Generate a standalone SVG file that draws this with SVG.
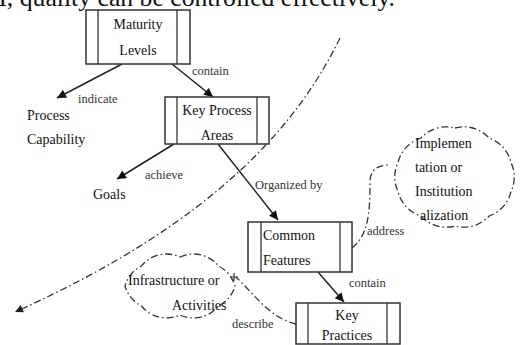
<svg xmlns="http://www.w3.org/2000/svg" width="521" height="345" viewBox="0 0 521 345">
<style>
.box{fill:#fff;stroke:#333;stroke-width:1.5}
.div{stroke:#333;stroke-width:1.3}
.t{font-family:'Liberation Serif','Times New Roman',serif;font-size:14px;fill:#111}
.lb{font-family:'Liberation Serif','Times New Roman',serif;font-size:12.5px;fill:#333}
.arr{stroke:#222;stroke-width:1.5;fill:none;marker-end:url(#ah)}
.dd{stroke:#333;stroke-width:1.3;fill:none;stroke-dasharray:7 3 1.5 3}
</style>
<defs>
<marker id="ah" viewBox="0 0 10 10" refX="10" refY="5" markerWidth="11" markerHeight="9" markerUnits="userSpaceOnUse" orient="auto"><path d="M0,0 L10,5 L0,10 z" fill="#111"/></marker>
<marker id="ah2" viewBox="0 0 10 10" refX="10" refY="5" markerWidth="10" markerHeight="8" markerUnits="userSpaceOnUse" orient="auto"><path d="M0,0 L10,5 L0,10 z" fill="#222"/></marker>
</defs>
<rect width="521" height="345" fill="#fff"/>
<text x="-16" y="6" font-family="Liberation Serif, Times New Roman, serif" font-size="25.5" fill="#111" textLength="411" lengthAdjust="spacingAndGlyphs">M, quality can be controlled effectively.</text>

<g id="connectors" font-family="Liberation Serif, Times New Roman, serif">
<path class="dd" d="M340,38 C300,120 220,220 15,312" marker-end="url(#ah2)"/>
<line class="arr" x1="122" y1="64" x2="57" y2="98"/>
<line class="arr" x1="172" y1="64" x2="213" y2="97"/>
<line class="arr" x1="174" y1="144" x2="117" y2="179"/>
<line class="arr" x1="218" y1="144" x2="278" y2="220"/>
<line class="arr" x1="318" y1="272" x2="344" y2="302"/>
<path class="dd" d="M352,248 C368,235 370,215 370,182 Q370,165 390,165"/>
<path class="dd" d="M296,324 C270,318 255,295 236,277"/>
<path d="M230,277 L238,277 M234,273 L234,281" stroke="#333" stroke-width="1.2"/>
<text class="lb" x="78" y="103">indicate</text>
<text class="lb" x="192" y="75">contain</text>
<text class="lb" x="145" y="179">achieve</text>
<text class="lb" x="255" y="189">Organized by</text>
<text class="lb" x="367" y="235">address</text>
<text class="lb" x="349" y="287">contain</text>
<text class="lb" x="232" y="328">describe</text>
</g>

<g id="maturity-levels" font-family="Liberation Serif, Times New Roman, serif">
<rect class="box" x="86" y="10" width="104" height="54"/>
<line class="div" x1="98" y1="10" x2="98" y2="64"/>
<line class="div" x1="177" y1="10" x2="177" y2="64"/>
<text class="t" x="138" y="29" text-anchor="middle">Maturity</text>
<text class="t" x="138" y="55" text-anchor="middle">Levels</text>
</g>

<g id="process-capability" font-family="Liberation Serif, Times New Roman, serif">
<text class="t" x="27" y="120">Process</text>
<text class="t" x="27" y="144">Capability</text>
</g>

<g id="key-process-areas" font-family="Liberation Serif, Times New Roman, serif">
<rect class="box" x="165" y="97" width="104" height="47"/>
<line class="div" x1="177" y1="97" x2="177" y2="144"/>
<line class="div" x1="257" y1="97" x2="257" y2="144"/>
<text class="t" x="217" y="115" text-anchor="middle">Key Process</text>
<text class="t" x="217" y="140" text-anchor="middle">Areas</text>
</g>

<g id="goals" font-family="Liberation Serif, Times New Roman, serif">
<text class="t" x="93" y="199">Goals</text>
</g>

<g id="common-features" font-family="Liberation Serif, Times New Roman, serif">
<rect class="box" x="248" y="222" width="104" height="50"/>
<line class="div" x1="261" y1="222" x2="261" y2="272"/>
<line class="div" x1="340" y1="222" x2="340" y2="272"/>
<text class="t" x="263" y="240">Common</text>
<text class="t" x="263" y="265">Features</text>
</g>

<g id="key-practices" font-family="Liberation Serif, Times New Roman, serif">
<rect class="box" x="296" y="303" width="104" height="41"/>
<line class="div" x1="308" y1="303" x2="308" y2="344"/>
<line class="div" x1="387" y1="303" x2="387" y2="344"/>
<text class="t" x="347" y="320" text-anchor="middle">Key</text>
<text class="t" x="347" y="340" text-anchor="middle">Practices</text>
</g>

<g id="implementation-cloud" font-family="Liberation Serif, Times New Roman, serif">
<path class="dd" d="M455,128 A34,34 0 0 1 489.1,138 A34,34 0 0 1 511,162.5 A34,34 0 0 1 511,191.5 A34,34 0 0 1 489.1,216 A34,34 0 0 1 455,226 A34,34 0 0 1 420.9,216 A34,34 0 0 1 398,191.5 A34,34 0 0 1 398,162.5 A34,34 0 0 1 420.9,138 A34,34 0 0 1 455,128 Z"/>
<text class="t" x="415" y="148">Implemen</text>
<text class="t" x="415" y="172">tation or</text>
<text class="t" x="415" y="196">Institution</text>
<text class="t" x="420" y="220">alization</text>
</g>

<g id="infrastructure-cloud" font-family="Liberation Serif, Times New Roman, serif">
<path class="dd" d="M180,257 A32,32 0 0 1 218.5,266 A32,32 0 0 1 235,286 A32,32 0 0 1 218.5,306 A32,32 0 0 1 180,315 A32,32 0 0 1 141.5,306 A32,32 0 0 1 125,286 A32,32 0 0 1 141.5,266 A32,32 0 0 1 180,257 Z"/>
<text class="t" x="128" y="285">Infrastructure or</text>
<text class="t" x="172" y="310">Activities</text>
</g>
</svg>
